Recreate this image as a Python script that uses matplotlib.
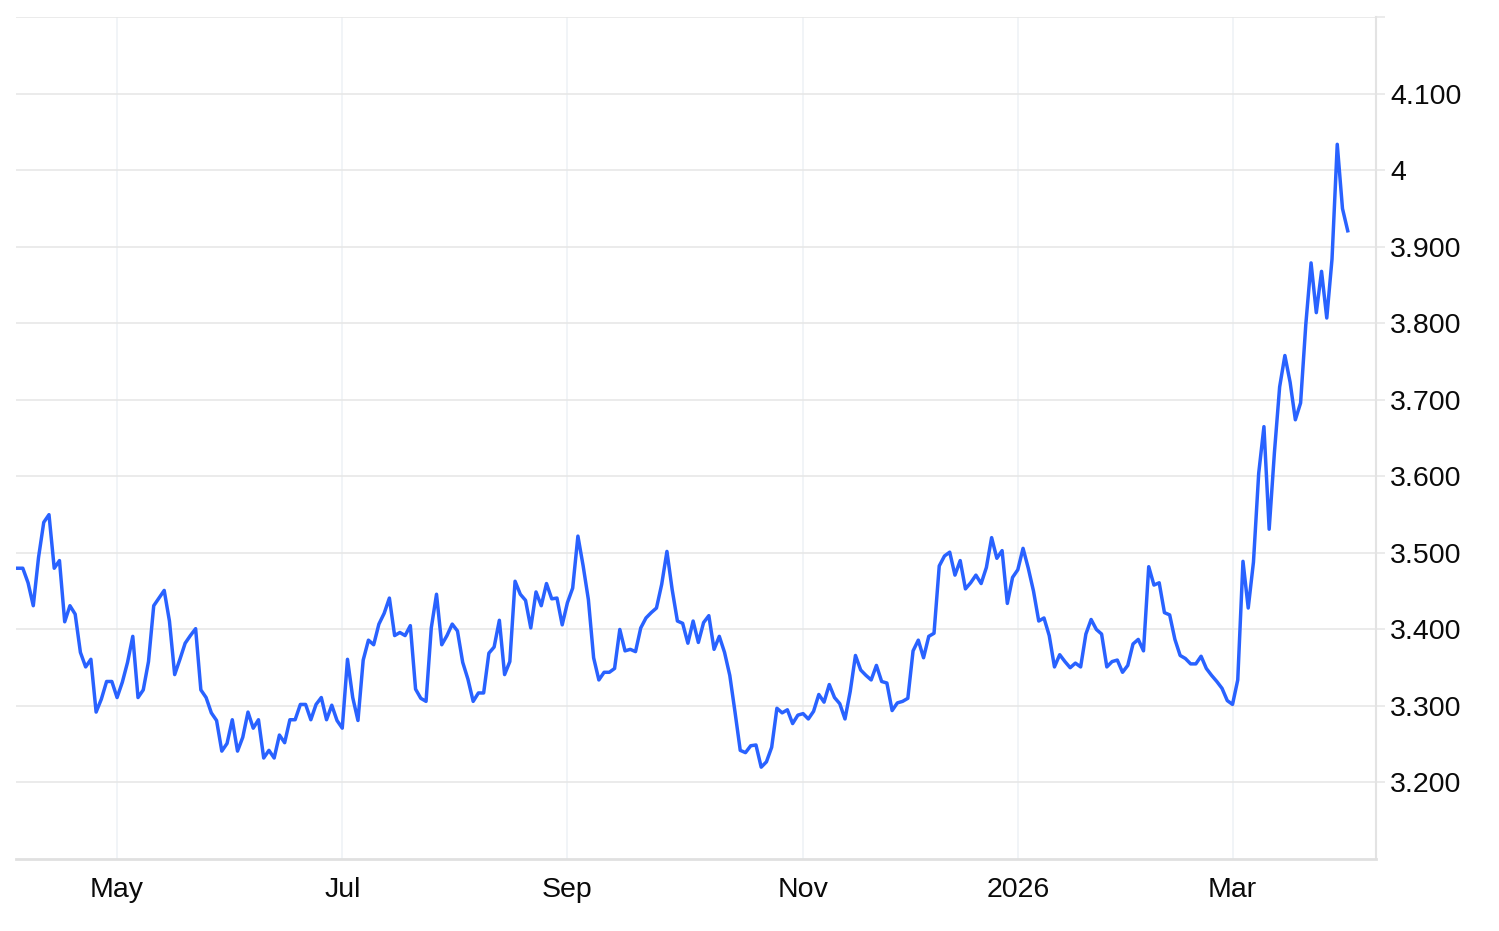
import numpy as np
import pandas as pd
import matplotlib
matplotlib.use('Agg')
import matplotlib.pyplot as plt

# ---------------------------------------------------------------------------
# Data (daily closes)
# ---------------------------------------------------------------------------

values = [
    3.480, 3.480, 3.461, 3.431, 3.494, 3.540, 3.550, 3.480, 3.490, 3.410,
    3.431, 3.420, 3.370, 3.351, 3.361, 3.292, 3.309, 3.332, 3.332, 3.311,
    3.331, 3.357, 3.391, 3.311, 3.321, 3.358, 3.431, 3.441, 3.451, 3.411,
    3.341, 3.361, 3.382, 3.392, 3.401, 3.321, 3.311, 3.291, 3.281, 3.241,
    3.251, 3.282, 3.241, 3.259, 3.292, 3.271, 3.282, 3.232, 3.242, 3.232,
    3.262, 3.252, 3.282, 3.282, 3.302, 3.302, 3.282, 3.302, 3.311, 3.282,
    3.301, 3.281, 3.271, 3.361, 3.311, 3.281, 3.360, 3.386, 3.380, 3.407,
    3.421, 3.441, 3.392, 3.396, 3.392, 3.405, 3.322, 3.310, 3.306, 3.402,
    3.446, 3.380, 3.392, 3.407, 3.398, 3.357, 3.335, 3.306, 3.317, 3.317,
    3.369, 3.377, 3.412, 3.341, 3.358, 3.463, 3.446, 3.438, 3.402, 3.449,
    3.431, 3.460, 3.440, 3.441, 3.406, 3.435, 3.454, 3.522, 3.483, 3.439,
    3.363, 3.334, 3.344, 3.344, 3.349, 3.400, 3.372, 3.374, 3.371, 3.402,
    3.415, 3.422, 3.428, 3.459, 3.502, 3.452, 3.411, 3.408, 3.382, 3.411,
    3.383, 3.409, 3.418, 3.374, 3.391, 3.370, 3.340, 3.292, 3.242, 3.239,
    3.248, 3.249, 3.220, 3.227, 3.246, 3.297, 3.291, 3.295, 3.277, 3.288,
    3.290, 3.283, 3.293, 3.315, 3.305, 3.328, 3.311, 3.303, 3.283, 3.319,
    3.366, 3.347, 3.340, 3.334, 3.353, 3.332, 3.330, 3.294, 3.304, 3.306,
    3.310, 3.372, 3.386, 3.363, 3.391, 3.395, 3.483, 3.496, 3.501, 3.471,
    3.490, 3.453, 3.461, 3.471, 3.460, 3.481, 3.520, 3.493, 3.503, 3.434,
    3.468, 3.478, 3.506, 3.480, 3.450, 3.411, 3.415, 3.392, 3.351, 3.367,
    3.358, 3.350, 3.356, 3.351, 3.394, 3.413, 3.400, 3.394, 3.351, 3.358,
    3.360, 3.344, 3.353, 3.381, 3.387, 3.372, 3.482, 3.458, 3.461, 3.422,
    3.419, 3.387, 3.366, 3.362, 3.355, 3.355, 3.365, 3.349, 3.340, 3.332,
    3.323, 3.307, 3.302, 3.334, 3.489, 3.428, 3.488, 3.604, 3.665, 3.531,
    3.631, 3.717, 3.758, 3.723, 3.674, 3.696, 3.799, 3.879, 3.814, 3.868,
    3.807, 3.884, 4.034, 3.950, 3.921,
]

start_date = '2025-04-04'
holidays   = ['2025-07-04', '2025-11-27', '2025-12-25', '2026-01-01']

tick_months = [(2025, 5), (2025, 7), (2025, 9), (2025, 11), (2026, 1), (2026, 3)]
tick_labels = ['May', 'Jul', 'Sep', 'Nov', '2026', 'Mar']

y_ticks       = [3.2, 3.3, 3.4, 3.5, 3.6, 3.7, 3.8, 3.9, 4.0, 4.1, 4.2]
y_tick_labels = ['3.200', '3.300', '3.400', '3.500', '3.600', '3.700',
                 '3.800', '3.900', '4', '4.100', '']

# ---------------------------------------------------------------------------
# Trading-day axis: x is the sample index, month ticks at first session
# ---------------------------------------------------------------------------

dates = pd.bdate_range(start_date, periods=len(values), freq='C', holidays=holidays)
x = np.arange(len(values))
tick_pos = [int(np.argmax((dates.year == yr) & (dates.month == mo)))
            for yr, mo in tick_months]

plt.rcParams['font.family'] = ['Liberation Sans', 'DejaVu Sans']

W, H = 1499, 931
fig = plt.figure(figsize=(W / 100, H / 100), dpi=100)
ax = fig.add_axes([16 / W, 1 - 859 / H, (1376 - 16) / W, (859 - 17.3) / H])

ax.plot(x, values, color='#2962ff', lw=2.5, zorder=3)

ax.set_xlim(-0.3, 259.4)
ax.set_ylim(3.1, 4.2)

ax.set_xticks(tick_pos)
ax.set_xticklabels(tick_labels)
ax.set_yticks(y_ticks)
ax.set_yticklabels(y_tick_labels)

ax.yaxis.tick_right()
ax.tick_params(axis='y', length=6.5, width=1.1, color='#e6e6e6', pad=3.5,
               labelsize=20.5, labelcolor='#0a0a0a')
ax.tick_params(axis='x', length=0, pad=13, labelsize=20.5, labelcolor='#0a0a0a')

ax.grid(axis='y', color='#e6e6e6', lw=1.1)
ax.grid(axis='x', color='#eef1f5', lw=1.1)
ax.set_axisbelow(True)

for side in ('left', 'top'):
    ax.spines[side].set_visible(False)
ax.spines['right'].set_color('#e3e3e3')
ax.spines['right'].set_linewidth(1.5)
ax.spines['bottom'].set_color('#e0e0e0')
ax.spines['bottom'].set_linewidth(2)

fig.savefig('out.png', dpi=100, facecolor='white')
